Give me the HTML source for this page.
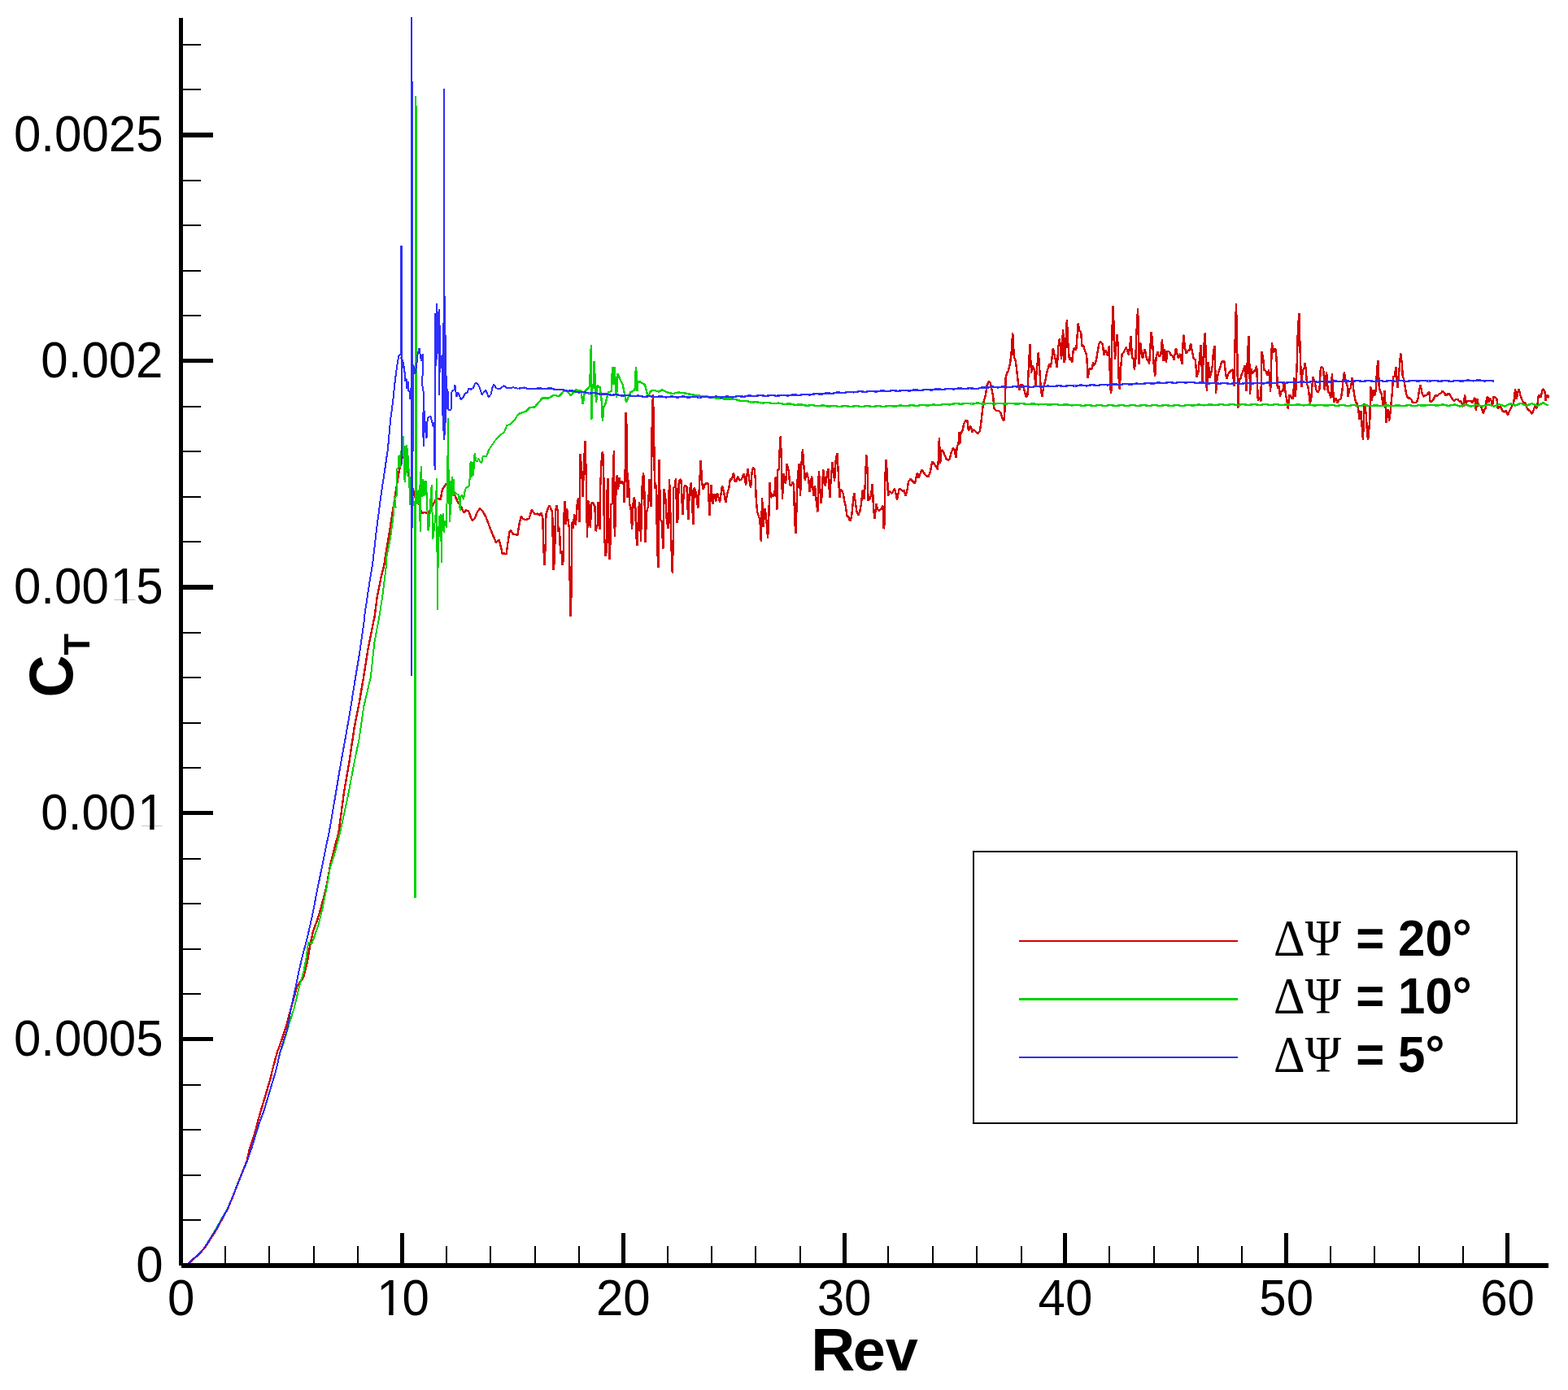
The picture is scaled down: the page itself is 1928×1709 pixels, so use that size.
<!DOCTYPE html>
<html lang="en">
<head>
<meta charset="utf-8">
<title>CT vs Rev</title>
<style>
html,body{margin:0;padding:0;background:#fff;}
body{width:1928px;height:1709px;overflow:hidden;}
svg{display:block;}
.tl{font-family:"Liberation Sans",sans-serif;font-size:60px;fill:#000;}
.ti{font-family:"Liberation Sans",sans-serif;font-weight:bold;font-size:72px;fill:#000;}
.lg{font-family:"Liberation Sans",sans-serif;font-weight:bold;font-size:60px;fill:#000;}
.gr{font-family:"Liberation Serif",serif;font-weight:normal;font-size:60px;fill:#000;}
.cv{fill:none;stroke-linejoin:bevel;stroke-linecap:butt;}
</style>
</head>
<body>
<svg width="1928" height="1709" viewBox="0 0 1928 1709">
<rect x="0" y="0" width="1928" height="1709" fill="#ffffff"/>
<g class="cv" shape-rendering="crispEdges">
<polyline points="229.7,1556.0 232.1,1553.4 242.1,1544.3 251.6,1534.7 265.4,1512.9 273.2,1498.6 280.2,1485.8 287.2,1468.7 293.9,1451.3 297.8,1441.8 303.7,1427.0 307.2,1411.4 313.4,1392.7 319.6,1369.4 325.8,1349.1 332.1,1327.4 336.7,1308.7 341.4,1291.6 342.8,1288.6 351.4,1263.7 357.6,1240.4 365.4,1212.3 370.0,1206.1 373.2,1201.4 377.8,1182.8 380.9,1164.1 384.8,1145.4 389.5,1133.0 394.9,1115.8 401.2,1090.9 406.6,1061.4 412.1,1039.6 416.4,1023.3 423.2,972.8 429.4,937.0 435.6,895.0 441.8,863.8 447.3,831.2 452.7,796.9 460.6,758.1 463.8,733.3 468.5,709.9 472.4,694.3 473.9,684.3 477.8,661.0 481.7,636.1 486.3,606.5 490.6,580.0 494.9,561.0 498.8,567.6 501.1,575.4 501.9,583.1 508.1,602.6 509.7,609.6 515.1,618.2 518.3,631.4 521.4,629.8 524.5,630.6 526.8,633.0 529.9,624.4 533.0,619.7 536.2,613.5 538.5,612.7 541.6,614.3 543.9,601.8 548.6,594.8 553.3,603.8 559.5,609.6 562.6,616.6 567.3,623.6 570.4,630.6 572.7,627.5 575.9,627.9 580.5,640.0 583.6,637.6 586.8,629.8 589.9,625.2 593.8,629.1 597.7,636.1 602.3,648.5 605.4,656.3 610.1,667.2 613.6,663.3 617.9,681.2 620.0,680.4 622.6,681.3 624.1,669.7 626.5,654.1 628.0,651.8 630.4,656.4 636.6,658.0 638.1,646.3 640.8,634.6 642.8,637.7 645.9,639.3 650.6,637.7 653.7,626.9 657.6,632.3 660.7,631.5 663.8,633.9 665.3,630.0 667.3,637.0 668.5,675.9 669.6,694.6 670.7,669.7 671.4,632.3 673.5,626.1 675.5,621.4 677.5,626.1 679.2,629.2 680.4,700.8 682.0,688.3 683.0,627.6 684.6,621.4 685.9,629.2 686.5,654.1 688.0,649.4 689.0,680.6 690.8,677.4 691.7,694.6 693.0,686.8 693.3,640.1 694.3,616.0 695.3,644.8 697.2,625.3 698.4,638.5 699.9,649.4 700.2,691.4 701.7,757.6 702.9,713.2 703.3,641.6 705.1,649.4 706.0,632.3 708.0,646.3 709.2,623.0 711.0,612.1 712.4,642.4 713.7,557.6 715.5,584.1 716.7,610.5 717.9,573.2 719.5,542.0 720.8,587.2 722.0,661.1 723.2,615.2 724.5,621.4 725.8,649.4 727.3,618.3 729.1,618.3 731.5,623.0 732.5,653.3 734.8,644.8 735.6,616.7 737.5,651.0 738.3,596.5 739.6,566.9 740.8,555.3 742.1,562.3 743.0,668.1 744.0,663.4 744.7,683.7 745.7,677.4 746.1,615.2 747.4,588.3 748.5,663.4 749.5,687.6 750.6,663.4 750.8,619.8 752.8,619.8 753.3,598.1 754.9,554.5 755.8,660.3 756.8,637.0 757.6,593.4 758.8,584.1 760.1,602.0 761.4,587.2 763.3,594.9 764.9,591.8 766.6,593.4 767.7,618.3 768.7,577.8 769.3,507.0 770.1,512.5 770.9,546.7 771.7,612.1 772.9,590.3 774.1,619.8 775.6,624.5 777.1,651.0 778.6,618.3 779.8,611.3 781.2,619.8 782.1,657.2 783.6,670.8 784.8,640.1 786.0,616.7 787.3,624.5 787.9,665.8 789.1,623.0 789.8,593.4 791.1,580.9 792.2,598.1 793.7,667.3 795.1,629.2 797.0,623.0 798.6,589.5 800.7,623.0 801.7,524.9 802.9,485.2 804.0,524.9 805.0,601.2 806.1,593.4 807.4,609.0 807.9,666.5 809.4,697.7 810.5,565.4 812.1,638.5 813.8,641.6 815.3,675.1 816.6,600.8 818.4,613.6 819.7,637.7 821.4,650.2 823.1,588.7 824.6,640.1 825.9,683.7 826.8,704.7 827.8,663.4 828.2,599.6 829.7,598.1 831.0,588.3 832.5,643.2 833.6,637.0 834.6,594.9 836.0,589.5 837.5,590.3 839.3,633.1 841.1,599.6 842.8,596.5 844.4,598.1 846.3,639.3 847.9,602.7 849.9,593.0 852.4,644.8 853.7,599.6 856.1,605.8 858.2,625.3 859.9,599.6 861.6,566.5 863.2,593.4 864.6,602.0 866.2,596.5 868.1,594.2 870.8,594.6 872.4,633.9 874.5,595.7 876.3,619.8 878.3,607.4 880.2,616.7 882.0,605.8 885.1,617.5 888.0,597.3 890.3,605.8 892.2,618.3 894.2,607.4 896.3,599.6 897.9,588.7 900.0,589.6 901.9,581.2 903.8,592.1 905.5,591.3 907.0,585.8 909.3,590.5 911.7,589.7 914.8,582.0 917.1,596.7 919.3,576.5 921.1,589.0 923.1,599.8 924.7,579.6 926.1,574.9 927.5,576.5 928.7,587.4 929.8,613.9 931.1,629.4 932.7,634.1 934.4,638.8 935.8,666.0 937.1,612.3 938.6,648.1 940.5,624.8 942.1,635.6 944.1,662.1 945.3,635.6 946.5,592.8 947.8,612.3 949.3,607.6 951.1,610.7 952.6,604.5 953.8,585.8 955.3,627.1 956.2,577.3 957.7,577.3 958.7,553.2 959.8,536.0 960.8,565.6 962.0,613.9 963.5,582.0 966.0,595.2 967.7,570.3 969.8,579.6 971.3,596.7 973.1,596.7 974.6,592.8 976.1,595.2 977.1,638.8 978.4,655.9 979.6,621.6 980.7,589.0 982.4,570.3 984.1,610.0 985.3,571.8 986.9,552.4 988.1,568.7 989.8,590.5 991.8,580.8 994.2,589.0 995.7,605.3 998.1,585.1 1000.4,610.0 1002.1,597.5 1003.8,617.0 1005.4,629.4 1006.9,578.8 1008.5,604.5 1009.7,618.5 1010.9,604.5 1012.1,576.9 1014.8,597.5 1018.3,575.7 1020.3,612.3 1021.7,589.0 1023.6,567.9 1026.1,592.1 1027.5,567.2 1029.3,556.7 1030.7,579.6 1032.3,612.3 1033.7,602.2 1035.4,603.0 1036.9,607.6 1038.4,617.0 1040.0,623.2 1041.3,634.1 1043.3,635.6 1045.2,641.1 1047.0,635.6 1048.6,620.1 1050.2,605.7 1051.8,617.0 1053.5,629.4 1055.3,633.3 1057.2,629.4 1058.9,620.1 1060.8,602.2 1062.5,613.9 1063.8,595.2 1065.3,559.4 1066.8,581.2 1067.5,615.4 1069.2,613.9 1071.0,609.2 1072.7,594.8 1074.1,626.3 1075.5,637.6 1077.4,618.9 1079.0,626.3 1081.3,627.9 1083.9,624.8 1085.5,621.6 1086.7,650.4 1087.6,643.4 1088.4,585.8 1089.6,565.3 1090.9,582.7 1092.0,610.0 1093.8,603.7 1096.9,606.9 1100.0,600.6 1103.1,614.6 1105.5,601.4 1107.0,600.6 1109.3,603.7 1111.7,603.0 1113.7,610.0 1115.6,601.4 1117.1,592.1 1119.5,589.0 1122.6,592.1 1124.9,594.4 1128.0,580.8 1129.6,587.4 1133.5,577.3 1137.4,583.5 1141.3,586.6 1143.6,581.2 1146.3,567.2 1149.8,571.8 1152.9,577.3 1153.7,567.2 1154.9,537.6 1156.1,570.3 1157.5,553.2 1159.4,554.7 1161.5,559.4 1163.8,564.8 1166.2,565.6 1167.7,564.1 1169.7,556.3 1172.0,550.8 1173.7,553.2 1175.5,563.3 1176.9,547.7 1178.4,546.9 1179.6,531.4 1180.3,545.5 1181.4,533.0 1183.3,529.9 1185.4,520.6 1187.5,516.7 1189.4,517.4 1190.9,529.9 1192.5,524.4 1194.0,524.4 1195.3,531.4 1197.1,528.3 1199.5,530.7 1202.6,533.0 1204.9,529.9 1206.4,519.0 1208.1,503.4 1209.8,492.5 1211.8,486.3 1213.5,473.9 1215.8,469.2 1217.8,470.7 1219.5,478.5 1221.2,487.9 1222.3,501.9 1225.1,505.0 1228.3,505.0 1230.6,508.1 1232.2,513.5 1234.3,517.4 1235.5,505.0 1236.7,464.5 1238.2,458.3 1239.9,456.0 1242.0,447.4 1243.5,434.9 1245.2,408.9 1246.9,439.6 1248.6,442.7 1249.9,452.1 1251.2,464.5 1252.4,473.9 1253.4,480.1 1254.7,473.9 1256.5,472.3 1258.5,475.4 1260.2,483.2 1262.0,488.6 1263.6,484.8 1264.4,461.4 1265.5,439.6 1266.5,422.9 1268.0,459.1 1269.4,449.0 1271.6,453.6 1273.3,473.9 1274.8,455.2 1276.0,442.7 1276.8,432.6 1277.7,445.8 1278.6,459.8 1279.8,477.0 1281.3,487.9 1283.0,477.0 1285.1,469.2 1287.1,458.3 1288.9,452.1 1290.4,447.4 1291.7,452.1 1293.2,442.7 1294.9,427.9 1297.5,441.2 1299.8,452.1 1301.2,427.2 1302.9,416.3 1305.1,442.0 1307.1,404.6 1308.7,445.8 1310.0,439.6 1311.0,405.4 1312.0,392.9 1312.7,413.2 1314.0,431.8 1315.0,442.7 1316.9,439.6 1318.2,445.8 1320.1,427.9 1323.2,430.3 1325.7,397.6 1327.3,406.9 1329.1,407.7 1330.5,425.6 1332.5,425.6 1334.1,431.8 1336.1,436.5 1337.7,464.5 1339.4,453.6 1342.7,453.6 1344.2,445.8 1346.0,449.0 1348.0,442.7 1349.7,431.8 1351.4,422.5 1353.2,420.2 1355.9,423.3 1357.4,436.5 1359.8,429.9 1362.2,438.1 1363.9,424.8 1365.1,470.7 1366.0,484.0 1366.8,477.0 1367.4,408.5 1368.5,376.2 1369.6,400.7 1371.0,441.6 1372.6,420.9 1373.7,411.6 1374.8,427.2 1375.6,464.5 1376.8,478.9 1378.1,452.1 1379.7,434.9 1381.6,433.4 1384.7,426.8 1387.8,436.5 1390.6,413.5 1391.9,439.6 1393.6,441.2 1394.9,454.4 1396.3,442.7 1397.4,410.0 1399.1,379.3 1400.7,447.8 1402.1,420.9 1404.9,441.2 1407.7,429.1 1410.0,442.0 1411.6,442.7 1413.1,447.4 1414.3,428.7 1415.6,408.5 1416.5,414.7 1417.5,427.2 1418.5,445.8 1420.2,463.0 1421.6,439.6 1423.3,432.6 1425.0,438.1 1427.2,437.3 1429.0,417.4 1430.6,444.3 1432.0,428.7 1433.9,445.5 1435.3,431.8 1437.6,432.6 1439.9,436.5 1442.3,438.1 1443.4,442.7 1445.9,427.9 1448.9,440.4 1451.6,434.9 1453.3,448.2 1455.2,411.6 1457.0,427.2 1458.7,434.9 1460.4,431.8 1462.4,430.3 1464.2,422.5 1466.1,433.4 1467.8,441.2 1469.8,442.3 1471.6,463.7 1473.6,456.7 1475.1,439.6 1476.7,423.7 1478.5,471.9 1480.1,427.2 1481.9,408.6 1483.8,480.5 1485.7,445.1 1487.7,464.5 1489.3,458.3 1490.9,449.0 1492.0,431.8 1493.6,425.2 1495.0,483.6 1496.6,464.5 1498.2,458.3 1500.2,452.1 1501.9,445.8 1503.6,443.5 1505.5,444.3 1506.9,458.3 1508.4,466.1 1510.0,459.8 1512.0,457.5 1514.1,455.2 1515.8,454.4 1517.4,475.4 1518.6,420.9 1520.0,373.0 1521.1,420.9 1522.3,501.9 1523.5,466.1 1525.3,466.1 1526.9,459.8 1528.9,455.2 1530.8,449.0 1532.7,480.9 1534.1,433.4 1535.6,413.2 1537.1,484.8 1538.4,453.6 1540.0,459.8 1541.6,456.7 1543.3,456.0 1545.2,449.7 1546.8,492.5 1548.6,487.9 1550.3,494.1 1551.6,431.8 1553.2,441.2 1554.5,455.2 1556.4,456.0 1558.4,461.4 1560.1,454.4 1562.2,481.6 1563.9,421.3 1565.5,433.4 1566.9,428.7 1568.3,428.7 1569.6,441.2 1570.8,477.7 1572.6,473.9 1574.0,487.9 1575.6,480.1 1577.2,481.6 1578.9,469.2 1580.7,483.2 1582.1,491.0 1583.8,503.0 1585.1,486.3 1586.8,485.5 1588.3,490.2 1590.2,489.4 1591.3,464.5 1592.6,487.9 1593.6,477.0 1594.7,447.4 1596.0,402.3 1597.4,385.5 1598.8,436.5 1600.3,476.2 1601.7,455.2 1603.5,453.6 1604.7,445.8 1605.9,455.2 1607.0,472.3 1608.4,475.4 1609.4,483.2 1610.9,495.6 1612.3,489.4 1614.3,463.0 1616.7,470.0 1618.6,480.1 1620.7,482.4 1622.5,478.5 1623.9,452.1 1625.4,451.3 1627.2,453.6 1628.8,480.1 1631.1,457.5 1632.9,482.4 1634.7,482.4 1636.3,489.8 1637.9,459.5 1640.1,494.9 1642.8,489.0 1644.6,495.6 1646.7,491.0 1648.7,491.0 1650.4,480.1 1651.7,466.1 1652.9,457.5 1654.1,464.5 1655.3,470.7 1656.6,473.9 1657.7,487.9 1659.0,478.5 1660.8,477.0 1662.7,463.7 1664.4,480.1 1665.9,489.4 1667.4,495.6 1668.9,495.6 1670.2,503.4 1671.7,515.5 1673.4,505.0 1674.8,526.8 1676.0,541.2 1676.9,511.2 1677.6,496.4 1678.7,501.9 1679.9,509.7 1680.9,531.4 1682.1,541.2 1683.1,529.9 1684.3,517.4 1685.2,475.0 1686.9,492.5 1688.7,479.3 1690.6,486.3 1692.0,477.0 1693.1,453.6 1694.5,443.1 1695.8,477.0 1697.3,481.6 1698.9,484.8 1700.8,500.3 1702.7,480.1 1704.5,519.8 1706.4,502.7 1708.1,517.4 1709.4,508.1 1710.6,495.6 1711.9,481.6 1713.1,463.0 1714.8,463.0 1716.5,450.9 1718.4,477.0 1720.4,456.0 1722.2,433.8 1723.7,445.8 1724.8,463.0 1726.2,466.1 1727.6,475.4 1729.3,484.8 1731.0,489.4 1733.0,489.4 1735.4,491.0 1736.9,494.9 1739.6,494.7 1741.6,494.8 1743.3,491.3 1744.7,482.5 1746.6,472.8 1748.3,482.5 1750.3,487.9 1752.2,486.4 1754.7,485.5 1755.9,482.5 1757.4,482.5 1758.4,493.3 1760.1,493.8 1762.0,491.8 1764.9,486.4 1767.4,486.4 1769.3,484.5 1771.8,483.5 1773.7,480.6 1775.7,482.5 1777.6,486.4 1779.1,485.5 1781.0,483.5 1783.0,485.5 1784.9,489.4 1787.9,492.8 1790.3,490.8 1792.3,490.8 1794.2,493.3 1796.2,493.3 1797.7,496.2 1799.5,500.1 1801.1,485.5 1802.5,496.2 1804.0,492.8 1808.4,492.8 1810.4,495.2 1813.5,488.9 1814.9,505.0 1816.5,490.1 1818.0,499.1 1819.7,498.2 1821.4,501.1 1822.9,505.0 1824.0,508.4 1825.6,503.1 1827.1,501.1 1828.0,488.4 1829.4,488.4 1830.4,494.3 1831.4,489.9 1833.6,492.3 1835.1,498.2 1836.6,487.4 1838.4,488.9 1840.5,490.4 1841.7,502.1 1843.4,500.1 1845.0,500.1 1847.5,505.0 1849.0,506.5 1851.9,505.0 1853.8,510.4 1855.4,507.0 1857.3,503.1 1859.0,499.1 1861.1,496.2 1863.1,478.6 1864.6,490.4 1867.5,478.1 1869.5,486.4 1871.5,491.3 1873.6,495.2 1875.3,495.2 1876.8,500.1 1879.0,504.0 1881.2,505.0 1883.2,508.9 1885.1,506.0 1886.6,501.1 1888.0,499.1 1889.1,503.1 1890.4,498.2 1891.6,487.4 1892.9,485.5 1894.4,488.4 1895.4,484.5 1896.8,478.6 1898.2,478.6 1899.6,482.5 1900.7,493.3 1901.9,485.5 1903.2,486.4 1904.6,489.4" stroke="#d20000" stroke-width="2.4"/>
<rect x="510" y="118" width="2" height="12" fill="#00d200" stroke="none"/>
<rect x="510" y="130" width="3" height="490" fill="#00d200" stroke="none"/>
<rect x="509" y="620" width="3" height="484" fill="#00d200" stroke="none"/>
<rect x="537" y="692" width="2" height="58" fill="#00d200" stroke="none"/>
<polyline points="229.3,1556.0 231.7,1553.0 241.8,1544.0 251.1,1534.4 265.1,1511.8 272.9,1497.8 279.9,1486.1 286.9,1469.0 293.9,1451.9 297.8,1442.5 304.1,1427.0 309.5,1411.4 314.9,1393.5 319.6,1379.0 324.3,1366.6 329.0,1351.0 333.6,1335.4 338.3,1319.9 341.4,1307.4 344.5,1293.4 346.7,1288.6 356.0,1257.5 362.3,1237.2 368.5,1210.8 373.2,1195.2 376.3,1179.6 379.1,1158.6 383.5,1160.2 391.8,1136.1 396.5,1117.4 401.2,1094.0 405.8,1067.6 412.1,1047.3 418.0,1024.1 427.8,979.0 434.8,941.7 441.8,907.4 447.3,868.5 455.8,832.7 460.5,789.1 466.4,758.1 470.0,734.8 473.2,709.9 475.0,694.3 475.4,684.3 480.1,661.0 483.2,637.6 484.4,626.7 483.6,617.4 486.7,624.4 485.2,611.9 487.9,609.6 488.3,602.6 487.5,577.7 489.5,575.4 490.2,559.8 492.2,574.6 492.6,555.1 495.0,552.0 496.1,536.0 497.0,590.0 497.6,548.0 498.3,592.5 499.2,556.0 500.4,547.5 501.5,580.0 502.2,560.0 503.0,600.0 503.6,586.0 504.4,620.5 505.5,600.0 511.0,630.0 511.2,118.0 510.4,1104.0 511.3,600.0 513.6,606.5 514.4,619.7 515.9,595.6 516.7,654.0 517.6,573.0 518.6,611.2 519.8,589.4 521.0,609.6 522.2,590.9 522.9,608.8 523.7,590.9 525.0,613.9 526.4,652.4 528.0,645.4 529.0,620.1 530.7,596.4 531.5,629.8 532.3,662.5 534.0,648.9 535.8,629.8 536.9,588.2 537.6,693.0 538.0,749.5 538.6,690.0 539.4,650.0 540.1,634.5 541.2,660.0 542.0,632.0 542.9,691.5 543.6,640.0 544.7,631.5 545.6,655.0 547.1,640.0 548.8,648.5 550.2,590.0 551.0,514.5 551.7,600.0 552.6,622.0 553.3,641.5 554.5,590.9 555.0,619.7 555.6,586.2 556.6,609.6 557.6,588.6 558.3,608.0 559.5,604.9 561.5,607.3 563.4,608.0 564.6,614.3 565.7,627.5 566.5,610.4 568.5,608.8 570.0,614.3 571.2,605.7 572.7,600.3 576.6,597.5 577.8,587.0 578.6,566.8 579.8,587.0 580.9,567.6 582.1,584.7 583.6,557.4 585.2,566.0 586.8,567.6 588.3,563.7 590.3,567.6 592.2,569.1 593.8,560.6 596.1,561.3 598.4,560.6 600.8,553.6 602.3,551.3 608.6,542.0 614.0,535.8 620.0,531.1 623.3,523.0 628.0,521.4 632.7,516.7 637.4,509.0" stroke="#00d200" stroke-width="2.0"/>
<polyline points="637.4,509.0 642.0,507.4 646.7,505.8 651.4,501.2 657.6,500.4 662.3,494.9 666.9,489.5 674.7,489.5 680.9,485.6 687.2,487.2 693.4,480.9 696.5,480.2 702.0,486.4 707.4,479.4 714.4,480.2 716.7,496.5 719.1,480.9 723.0,477.8 725.3,474.7 726.1,446.7 726.9,424.1 727.3,516.0 728.3,474.7 729.5,477.8 730.7,444.4 732.0,474.7 733.1,494.9 734.5,473.9 737.7,476.3 739.8,493.4 740.9,517.5 742.4,499.6 744.0,498.1 747.9,482.5 751.8,480.9 752.5,462.3 753.3,450.6 754.4,473.2 755.6,451.4 756.9,473.2 758.0,488.7 759.5,459.1 763.4,468.5 765.8,473.2 770.0,494.6 775.1,482.5 780.6,479.4 781.3,462.3 782.1,450.6 783.4,480.9 784.6,468.5 786.8,469.3 793.0,473.2 795.3,482.5 796.9,487.9 800.0,480.9 803.9,479.7 810.1,481.7 814.0,479.4 821.0,482.5 827.2,484.1 833.5,482.5 841.3,483.3 849.0,484.8 856.8,486.4 867.7,487.2 880.2,489.5 892.6,490.6 899.9,490.6 905.0,491.2 906.5,491.7 908.0,492.2 909.5,492.6 911.0,492.8 912.5,492.9 914.0,492.8 915.5,492.8 917.0,492.9 918.5,493.2 920.0,493.6 921.5,494.1 923.0,494.4 924.5,494.5 926.0,494.5 927.5,494.3 929.0,494.2 930.5,494.3 932.0,494.5 933.5,494.9 935.0,495.2 936.5,495.5 938.0,495.5 939.5,495.4 941.0,495.2 942.5,495.0 944.0,495.0 945.5,495.2 947.0,495.5 948.5,495.9 950.0,496.1 951.5,496.2 953.0,496.1 954.5,495.8 956.0,495.7 957.5,495.6 959.0,495.8 960.5,496.1 962.0,496.5 963.5,496.8 965.0,496.9 966.5,496.8 968.0,496.6 969.5,496.5 971.0,496.4 972.5,496.6 974.0,497.0 975.5,497.4 977.0,497.7 978.5,497.8 980.0,497.7 981.5,497.6 983.0,497.4 984.5,497.4 986.0,497.5 987.5,497.9 989.0,498.3 990.5,498.6 992.0,498.7 993.5,498.7 995.0,498.4 996.5,498.2 998.0,498.1 999.5,498.2 1001.0,498.5 1002.5,498.8 1004.0,499.1 1005.5,499.2 1007.0,499.1 1008.5,498.8 1010.0,498.6 1011.5,498.5 1013.0,498.6 1014.5,498.8 1016.0,499.2 1017.5,499.5 1019.0,499.6 1020.5,499.5 1022.0,499.2 1023.5,499.0 1025.0,498.9 1026.5,498.9 1028.0,499.2 1029.5,499.6 1031.0,499.8 1032.5,499.9 1034.0,499.8 1035.5,499.5 1037.0,499.2 1038.5,499.1 1040.0,499.1 1041.5,499.3 1043.0,499.6 1044.5,499.9 1046.0,499.9 1047.5,499.8 1049.0,499.5 1050.5,499.3 1052.0,499.1 1053.5,499.1 1055.0,499.3 1056.5,499.6 1058.0,499.9 1059.5,499.9 1061.0,499.8 1062.5,499.6 1064.0,499.3 1065.5,499.1 1067.0,499.1 1068.5,499.3 1070.0,499.6 1071.5,499.8 1073.0,499.9 1074.5,499.8 1076.0,499.6 1077.5,499.3 1079.0,499.1 1080.5,499.1 1082.0,499.3 1083.5,499.6 1085.0,499.8 1086.5,499.9 1088.0,499.8 1089.5,499.5 1091.0,499.2 1092.5,498.9 1094.0,498.9 1095.5,499.0 1097.0,499.3 1098.5,499.5 1100.0,499.6 1101.5,499.5 1103.0,499.2 1104.5,498.9 1106.0,498.6 1107.5,498.5 1109.0,498.7 1110.5,498.9 1112.0,499.2 1113.5,499.3 1115.0,499.2 1116.5,498.9 1118.0,498.5 1119.5,498.3 1121.0,498.2 1122.5,498.3 1124.0,498.5 1125.5,498.8 1127.0,498.9 1128.5,498.8 1130.0,498.5 1131.5,498.2 1133.0,497.9 1134.5,497.8 1136.0,497.9 1137.5,498.2 1139.0,498.4 1140.5,498.6 1142.0,498.5 1143.5,498.2 1145.0,497.9 1146.5,497.6 1148.0,497.5 1149.5,497.6 1151.0,497.8 1152.5,498.0 1154.0,498.1 1155.5,498.0 1157.0,497.7 1158.5,497.3 1160.0,497.0 1161.5,496.8 1163.0,496.9 1164.5,497.1 1166.0,497.3 1167.5,497.4 1169.0,497.3 1170.5,497.0 1172.0,496.6 1173.5,496.3 1175.0,496.1 1176.5,496.2 1178.0,496.3 1179.5,496.6 1181.0,496.7 1182.5,496.7 1184.0,496.5 1185.5,496.1 1187.0,495.9 1188.5,495.7 1190.0,495.8 1191.5,496.0 1193.0,496.3 1194.5,496.5 1196.0,496.5 1197.5,496.3 1199.0,496.0 1200.5,495.7 1202.0,495.6 1203.5,495.7 1205.0,495.9 1206.5,496.3 1208.0,496.5 1209.5,496.5 1211.0,496.4 1212.5,496.1 1214.0,495.8 1215.5,495.7 1217.0,495.7 1218.5,496.0 1220.0,496.3 1221.5,496.5 1223.0,496.5 1224.5,496.4 1226.0,496.1 1227.5,495.8 1229.0,495.7 1230.5,495.7 1232.0,496.0 1233.5,496.3 1235.0,496.5 1236.5,496.5 1238.0,496.4 1239.5,496.1 1241.0,495.8 1242.5,495.7 1244.0,495.8 1245.5,496.0 1247.0,496.4 1248.5,496.6 1250.0,496.7 1251.5,496.6 1253.0,496.4 1254.5,496.1 1256.0,496.0 1257.5,496.1 1259.0,496.4 1260.5,496.7 1262.0,497.0 1263.5,497.1 1265.0,497.0 1266.5,496.8 1268.0,496.5 1269.5,496.4 1271.0,496.4 1272.5,496.7 1274.0,497.0 1275.5,497.3 1277.0,497.4 1278.5,497.3 1280.0,497.1 1281.5,496.8 1283.0,496.7 1284.5,496.7 1286.0,496.9 1287.5,497.3 1289.0,497.6 1290.5,497.7 1292.0,497.6 1293.5,497.4 1295.0,497.1 1296.5,496.9 1298.0,497.0 1299.5,497.2 1301.0,497.5 1302.5,497.8 1304.0,497.9 1305.5,497.9 1307.0,497.7 1308.5,497.4 1310.0,497.3 1311.5,497.3 1313.0,497.5 1314.5,497.9 1316.0,498.2 1317.5,498.4 1319.0,498.3 1320.5,498.1 1322.0,497.9 1323.5,497.7 1325.0,497.7 1326.5,497.9 1328.0,498.3 1329.5,498.6 1331.0,498.8 1332.5,498.8 1334.0,498.6 1335.5,498.3 1337.0,498.1 1338.5,498.1 1340.0,498.2 1341.5,498.5 1343.0,498.8 1344.5,498.9 1346.0,498.9 1347.5,498.6 1349.0,498.3 1350.5,498.1 1352.0,498.1 1353.5,498.2 1355.0,498.5 1356.5,498.8 1358.0,498.9 1359.5,498.9 1361.0,498.7 1362.5,498.4 1364.0,498.1 1365.5,498.1 1367.0,498.2 1368.5,498.5 1370.0,498.8 1371.5,498.9 1373.0,498.9 1374.5,498.7 1376.0,498.4 1377.5,498.1 1379.0,498.1 1380.5,498.2 1382.0,498.5 1383.5,498.8 1385.0,498.9 1386.5,498.9 1388.0,498.7 1389.5,498.4 1391.0,498.1 1392.5,498.1 1394.0,498.2 1395.5,498.4 1397.0,498.7 1398.5,498.9 1400.0,498.9 1401.5,498.7 1403.0,498.4 1404.5,498.2 1406.0,498.1 1407.5,498.2 1409.0,498.4 1410.5,498.7 1412.0,498.9 1413.5,498.9 1415.0,498.7 1416.5,498.4 1418.0,498.2 1419.5,498.1 1421.0,498.1 1422.5,498.4 1424.0,498.7 1425.5,498.9 1427.0,498.9 1428.5,498.7 1430.0,498.4 1431.5,498.2 1433.0,498.1 1434.5,498.1 1436.0,498.4 1437.5,498.7 1439.0,498.9 1440.5,498.9 1442.0,498.8 1443.5,498.5 1445.0,498.2 1446.5,498.1 1448.0,498.1 1449.5,498.4 1451.0,498.7 1452.5,498.9 1454.0,498.9 1455.5,498.8 1457.0,498.5 1458.5,498.2 1460.0,498.1 1461.5,498.0 1463.0,498.2 1464.5,498.4 1466.0,498.6 1467.5,498.6 1469.0,498.3 1470.5,498.0 1472.0,497.7 1473.5,497.5 1475.0,497.6 1476.5,497.8 1478.0,498.1 1479.5,498.3 1481.0,498.3 1482.5,498.2 1484.0,497.9 1485.5,497.6 1487.0,497.4 1488.5,497.4 1490.0,497.6 1491.5,497.9 1493.0,498.1 1494.5,498.2 1496.0,498.0 1497.5,497.7 1499.0,497.4 1500.5,497.2 1502.0,497.2 1503.5,497.4 1505.0,497.7 1506.5,498.0 1508.0,498.0 1509.5,497.9 1511.0,497.6 1512.5,497.3 1514.0,497.1 1515.5,497.1 1517.0,497.3 1518.5,497.6 1520.0,497.8 1521.5,497.9 1523.0,497.8 1524.5,497.6 1526.0,497.3 1527.5,497.1 1529.0,497.1 1530.5,497.3 1532.0,497.6 1533.5,497.8 1535.0,497.9 1536.5,497.9 1538.0,497.6 1539.5,497.3 1541.0,497.1 1542.5,497.1 1544.0,497.3 1545.5,497.5 1547.0,497.8 1548.5,497.9 1550.0,497.9 1551.5,497.6 1553.0,497.3 1554.5,497.1 1556.0,497.1 1557.5,497.2 1559.0,497.5 1560.5,497.8 1562.0,497.9 1563.5,497.9 1565.0,497.7 1566.5,497.4 1568.0,497.2 1569.5,497.1 1571.0,497.3 1572.5,497.6 1574.0,497.9 1575.5,498.1 1577.0,498.0 1578.5,497.8 1580.0,497.5 1581.5,497.3 1583.0,497.3 1584.5,497.4 1586.0,497.7 1587.5,498.0 1589.0,498.2 1590.5,498.2 1592.0,498.0 1593.5,497.7 1595.0,497.5 1596.5,497.4 1598.0,497.6 1599.5,497.9 1601.0,498.2 1602.5,498.4 1604.0,498.3 1605.5,498.1 1607.0,497.8 1608.5,497.6 1610.0,497.6 1611.5,497.7 1613.0,498.0 1614.5,498.3 1616.0,498.5 1617.5,498.5 1619.0,498.3 1620.5,498.0 1622.0,497.8 1623.5,497.7 1625.0,497.8 1626.5,498.1 1628.0,498.4 1629.5,498.6 1631.0,498.6 1632.5,498.5 1634.0,498.2 1635.5,497.9 1637.0,497.8 1638.5,498.0 1640.0,498.2 1641.5,498.6 1643.0,498.8 1644.5,498.8 1646.0,498.6 1647.5,498.3 1649.0,498.1 1650.5,498.0 1652.0,498.1 1653.5,498.4 1655.0,498.7 1656.5,498.9 1658.0,498.9 1659.5,498.8 1661.0,498.5 1662.5,498.2 1664.0,498.1 1665.5,498.2 1667.0,498.4 1668.5,498.8 1670.0,499.0 1671.5,499.0 1673.0,498.9 1674.5,498.6 1676.0,498.3 1677.5,498.2 1679.0,498.3 1680.5,498.5 1682.0,498.8 1683.5,499.1 1685.0,499.1 1686.5,499.0 1688.0,498.7 1689.5,498.4 1691.0,498.3 1692.5,498.3 1694.0,498.6 1695.5,498.9 1697.0,499.1 1698.5,499.2 1700.0,499.1 1701.5,498.8 1703.0,498.5 1704.5,498.4 1706.0,498.4 1707.5,498.6 1709.0,498.9 1710.5,499.1 1712.0,499.2 1713.5,499.0 1715.0,498.7 1716.5,498.4 1718.0,498.3 1719.5,498.3 1721.0,498.5 1722.5,498.8 1724.0,499.0 1725.5,499.1 1727.0,499.0 1728.5,498.7 1730.0,498.4 1731.5,498.2 1733.0,498.2 1734.5,498.4 1736.0,498.7 1737.5,499.0 1739.0,499.1 1740.5,499.0 1742.0,498.7 1743.5,498.4 1745.0,498.2 1749.8,498.7 1759.5,497.7 1767.4,498.7 1774.2,497.2 1781.0,499.0 1788.9,497.2 1794.7,499.6 1802.5,497.7 1808.4,499.6 1816.2,497.7 1823.1,499.6 1829.9,497.2 1836.7,499.6 1843.6,497.2 1850.4,499.6 1857.3,496.2 1863.1,498.7 1870.0,495.7 1876.8,499.0 1883.6,496.0 1890.5,499.0 1897.3,495.2 1903.7,498.7" stroke="#00d200" stroke-width="2.4"/>
<rect x="505" y="21" width="2" height="79" fill="#2e2eff" stroke="none"/>
<rect x="505" y="100" width="3" height="549" fill="#2e2eff" stroke="none"/>
<rect x="505" y="649" width="2" height="182" fill="#2e2eff" stroke="none"/>
<rect x="492" y="302" width="3" height="134" fill="#2e2eff" stroke="none"/>
<rect x="493" y="436" width="2" height="135" fill="#2e2eff" stroke="none"/>
<rect x="545" y="109" width="2" height="255" fill="#2e2eff" stroke="none"/>
<polyline points="229.3,1556.0 231.7,1553.0 241.8,1544.0 251.1,1534.4 265.1,1512.6 272.9,1498.6 279.9,1486.1 286.9,1469.0 293.9,1451.9 297.8,1442.5 304.1,1427.0 309.5,1411.4 314.9,1392.7 319.6,1378.7 324.3,1366.3 329.0,1350.7 333.6,1335.1 338.3,1319.6 341.4,1307.1 344.5,1293.1 345.9,1288.6 352.9,1266.8 358.4,1237.2 363.8,1212.3 366.9,1196.8 371.6,1176.5 377.8,1153.2 384.1,1125.2 389.5,1097.2 394.9,1070.7 401.2,1039.6 404.7,1023.3 411.5,983.7 418.5,941.7 424.7,907.4 430.2,876.3 435.6,842.1 441.8,804.7 448.1,761.1 448.3,756.6 452.9,725.5 458.4,691.2 463.0,650.8 468.5,608.7 473.2,577.6 477.0,551.3 480.1,516.3 483.2,492.9 485.6,469.6 487.9,451.7 490.2,437.7 492.7,435.3 493.4,302.5 494.0,571.0 494.3,446.0 493.4,438.5 494.1,451.7 495.3,442.4 496.1,453.2 497.2,450.1 498.0,468.8 499.6,465.7 500.4,478.2 501.5,468.8 502.3,480.5 503.9,481.3 504.2,491.4 504.9,481.3 506.0,474.0 506.0,21.5 506.0,831.0 507.0,100.0 507.0,649.0 508.1,448.3 510.5,459.5 512.4,447.0 513.2,437.7 515.5,428.3 517.9,443.9 519.8,435.3 519.8,457.9 518.9,471.9 520.6,481.3 521.0,496.8 519.8,522.5 521.0,549.0 522.0,504.6 522.9,528.0 524.5,538.9 525.7,514.0 529.2,511.6 530.7,516.3 532.3,524.1 533.4,519.4 534.6,577.5 535.0,385.5 535.6,450.0 536.2,392.0 536.7,442.0 537.0,373.5 537.3,441.0 539.6,380.5 540.0,486.0 540.6,400.0 540.9,458.0 543.6,436.0 544.0,511.0 544.6,438.0 545.3,530.0 546.0,109.0 546.3,541.0 546.8,364.0 547.2,535.0 547.8,412.0 548.3,520.0 548.9,462.0 549.6,503.0 550.4,478.0 551.3,503.8 554.5,503.8 554.8,486.7 555.6,481.3 558.7,478.9 559.5,473.5 561.3,487.9 563.4,482.8 566.9,491.4 569.6,488.3 572.0,483.6 574.3,482.8 576.6,477.4 579.0,478.9 582.1,476.6 584.4,471.2 586.8,471.2 589.1,475.0 592.6,485.2 597.3,479.7 600.8,488.3 603.9,484.4 605.4,476.6 607.4,472.7 610.1,477.4 614.8,477.8 620.0,474.3 623.3,477.4 631.1,476.3 637.4,477.8" stroke="#2e2eff" stroke-width="2.0"/>
<polyline points="637.4,477.8 644.4,476.6 648.3,477.8 660.0,477.7 661.5,477.5 663.0,477.4 664.5,477.5 666.0,477.7 667.5,478.0 669.0,478.2 670.5,478.2 672.0,478.0 673.5,477.7 675.0,477.5 676.5,477.4 678.0,477.6 679.5,478.1 681.0,478.5 682.5,478.9 684.0,479.1 685.5,479.1 687.0,478.9 688.5,478.8 690.0,478.9 691.5,479.1 693.0,479.5 694.5,480.0 696.0,480.4 697.5,480.7 699.0,480.7 700.5,480.6 702.0,480.5 703.5,480.5 705.0,480.8 706.5,481.2 708.0,481.7 709.5,482.1 711.0,482.3 712.5,482.3 714.0,482.1 715.5,482.0 717.0,481.9 718.5,482.1 720.0,482.5 721.5,482.9 723.0,483.3 724.5,483.5 726.0,483.5 727.5,483.3 729.0,483.1 730.5,483.1 732.0,483.3 733.5,483.6 735.0,484.1 736.5,484.5 738.0,484.7 739.5,484.7 741.0,484.5 742.5,484.4 744.0,484.3 745.5,484.5 747.0,484.8 748.5,485.2 750.0,485.6 751.5,485.7 753.0,485.7 754.5,485.5 756.0,485.3 757.5,485.2 759.0,485.3 760.5,485.6 762.0,486.0 763.5,486.3 765.0,486.5 766.5,486.5 768.0,486.3 769.5,486.1 771.0,486.0 772.5,486.0 774.0,486.3 775.5,486.7 777.0,487.0 778.5,487.2 780.0,487.2 781.5,487.0 783.0,486.7 784.5,486.6 786.0,486.7 787.5,486.9 789.0,487.3 790.5,487.6 792.0,487.8 793.5,487.8 795.0,487.6 796.5,487.3 798.0,487.1 799.5,487.2 801.0,487.4 802.5,487.7 804.0,488.0 805.5,488.1 807.0,488.1 808.5,487.9 810.0,487.6 811.5,487.4 813.0,487.4 814.5,487.6 816.0,487.9 817.5,488.2 819.0,488.4 820.5,488.3 822.0,488.1 823.5,487.8 825.0,487.6 826.5,487.5 828.0,487.7 829.5,488.0 831.0,488.3 832.5,488.4 834.0,488.4 835.5,488.2 837.0,487.9 838.5,487.6 840.0,487.6 841.5,487.7 843.0,488.0 844.5,488.3 846.0,488.5 847.5,488.5 849.0,488.3 850.5,488.0 852.0,487.7 853.5,487.7 855.0,487.8 856.5,488.1 858.0,488.4 859.5,488.5 861.0,488.5 862.5,488.3 864.0,488.0 865.5,487.7 867.0,487.7 868.5,487.8 870.0,488.0 871.5,488.3 873.0,488.5 874.5,488.5 876.0,488.3 877.5,488.0 879.0,487.7 880.5,487.6 882.0,487.7 883.5,488.0 885.0,488.3 886.5,488.5 888.0,488.4 889.5,488.2 891.0,487.9 892.5,487.6 894.0,487.5 895.5,487.6 897.0,487.8 898.5,488.1 900.0,488.3 901.5,488.3 903.0,488.0 904.5,487.6 906.0,487.3 907.5,487.1 909.0,487.1 910.5,487.3 912.0,487.6 913.5,487.7 915.0,487.7 916.5,487.4 918.0,487.1 919.5,486.7 921.0,486.5 922.5,486.5 924.0,486.7 925.5,486.9 927.0,487.1 928.5,487.1 930.0,486.8 931.5,486.5 933.0,486.2 934.5,486.0 936.0,486.1 937.5,486.3 939.0,486.6 940.5,486.8 942.0,486.8 943.5,486.7 945.0,486.4 946.5,486.1 948.0,485.9 949.5,485.9 951.0,486.1 952.5,486.4 954.0,486.7 955.5,486.7 957.0,486.6 958.5,486.3 960.0,486.0 961.5,485.8 963.0,485.8 964.5,485.9 966.0,486.2 967.5,486.4 969.0,486.4 970.5,486.2 972.0,485.9 973.5,485.5 975.0,485.3 976.5,485.3 978.0,485.4 979.5,485.7 981.0,485.9 982.5,485.9 984.0,485.8 985.5,485.4 987.0,485.1 988.5,484.8 990.0,484.8 991.5,485.0 993.0,485.2 994.5,485.4 996.0,485.4 997.5,485.2 999.0,484.8 1000.5,484.5 1002.0,484.2 1003.5,484.1 1005.0,484.2 1006.5,484.4 1008.0,484.6 1009.5,484.6 1011.0,484.4 1012.5,484.1 1014.0,483.7 1015.5,483.4 1017.0,483.3 1018.5,483.4 1020.0,483.6 1021.5,483.8 1023.0,483.8 1024.5,483.6 1026.0,483.3 1027.5,482.9 1029.0,482.6 1030.5,482.5 1032.0,482.6 1033.5,482.8 1035.0,483.0 1036.5,483.0 1038.0,482.9 1039.5,482.6 1041.0,482.2 1042.5,481.9 1044.0,481.8 1045.5,481.8 1047.0,482.1 1048.5,482.3 1050.0,482.3 1051.5,482.2 1053.0,481.9 1054.5,481.5 1056.0,481.2 1057.5,481.1 1059.0,481.2 1060.5,481.5 1062.0,481.7 1063.5,481.8 1065.0,481.8 1066.5,481.5 1068.0,481.1 1069.5,480.9 1071.0,480.8 1072.5,480.9 1074.0,481.1 1075.5,481.4 1077.0,481.5 1078.5,481.4 1080.0,481.2 1081.5,480.8 1083.0,480.5 1084.5,480.4 1086.0,480.5 1087.5,480.7 1089.0,481.0 1090.5,481.1 1092.0,481.1 1093.5,480.8 1095.0,480.5 1096.5,480.2 1098.0,480.1 1099.5,480.1 1101.0,480.4 1102.5,480.6 1104.0,480.8 1105.5,480.7 1107.0,480.5 1108.5,480.2 1110.0,479.9 1111.5,479.7 1113.0,479.8 1114.5,480.0 1116.0,480.3 1117.5,480.4 1119.0,480.4 1120.5,480.1 1122.0,479.8 1123.5,479.5 1125.0,479.3 1126.5,479.3 1128.0,479.5 1129.5,479.8 1131.0,479.9 1132.5,479.9 1134.0,479.7 1135.5,479.3 1137.0,479.0 1138.5,478.8 1140.0,478.8 1141.5,479.0 1143.0,479.3 1144.5,479.4 1146.0,479.4 1147.5,479.2 1149.0,478.8 1150.5,478.5 1152.0,478.3 1153.5,478.3 1155.0,478.5 1156.5,478.7 1158.0,478.9 1159.5,478.9 1161.0,478.7 1162.5,478.3 1164.0,478.0 1165.5,477.8 1167.0,477.8 1168.5,478.0 1170.0,478.2 1171.5,478.4 1173.0,478.4 1174.5,478.2 1176.0,477.9 1177.5,477.5 1179.0,477.3 1180.5,477.3 1182.0,477.5 1183.5,477.8 1185.0,478.1 1186.5,478.1 1188.0,478.0 1189.5,477.7 1191.0,477.4 1192.5,477.3 1194.0,477.3 1195.5,477.5 1197.0,477.8 1198.5,478.1 1200.0,478.1 1201.5,478.0 1203.0,477.7 1204.5,477.2 1206.0,476.7 1207.5,476.5 1209.0,476.4 1210.5,476.4 1212.0,476.5 1213.5,476.6 1215.0,476.5 1216.5,476.2 1218.0,475.9 1219.5,475.6 1221.0,475.6 1222.5,475.8 1224.0,476.1 1225.5,476.3 1227.0,476.4 1228.5,476.3 1230.0,476.0 1231.5,475.7 1233.0,475.4 1234.5,475.4 1236.0,475.6 1237.5,475.8 1239.0,476.1 1240.5,476.2 1242.0,476.1 1243.5,475.8 1245.0,475.5 1246.5,475.2 1248.0,475.2 1249.5,475.4 1251.0,475.7 1252.5,475.9 1254.0,476.0 1255.5,475.9 1257.0,475.7 1258.5,475.4 1260.0,475.1 1261.5,475.1 1263.0,475.2 1264.5,475.5 1266.0,475.8 1267.5,475.9 1269.0,475.8 1270.5,475.6 1272.0,475.2 1273.5,475.0 1275.0,474.9 1276.5,475.0 1278.0,475.3 1279.5,475.5 1281.0,475.6 1282.5,475.6 1284.0,475.3 1285.5,474.9 1287.0,474.7 1288.5,474.6 1290.0,474.7 1291.5,474.9 1293.0,475.2 1294.5,475.3 1296.0,475.2 1297.5,475.0 1299.0,474.6 1300.5,474.3 1302.0,474.2 1303.5,474.3 1305.0,474.6 1306.5,474.8 1308.0,475.0 1309.5,474.9 1311.0,474.6 1312.5,474.3 1314.0,474.0 1315.5,473.9 1317.0,474.0 1318.5,474.2 1320.0,474.5 1321.5,474.6 1323.0,474.6 1324.5,474.4 1326.0,474.0 1327.5,473.7 1329.0,473.6 1330.5,473.7 1332.0,473.9 1333.5,474.2 1335.0,474.3 1336.5,474.3 1338.0,474.0 1339.5,473.7 1341.0,473.4 1342.5,473.2 1344.0,473.3 1345.5,473.5 1347.0,473.7 1348.5,473.9 1350.0,473.8 1351.5,473.6 1353.0,473.2 1354.5,472.9 1356.0,472.7 1357.5,472.8 1359.0,473.0 1360.5,473.2 1362.0,473.4 1363.5,473.3 1365.0,473.1 1366.5,472.8 1368.0,472.5 1369.5,472.3 1371.0,472.3 1372.5,472.5 1374.0,472.8 1375.5,473.0 1377.0,473.0 1378.5,472.8 1380.0,472.4 1381.5,472.1 1383.0,471.9 1384.5,472.0 1386.0,472.2 1387.5,472.4 1389.0,472.6 1390.5,472.6 1392.0,472.4 1393.5,472.1 1395.0,471.8 1396.5,471.6 1398.0,471.6 1399.5,471.8 1401.0,472.0 1402.5,472.2 1404.0,472.2 1405.5,472.0 1407.0,471.6 1408.5,471.3 1410.0,471.1 1411.5,471.0 1413.0,471.2 1414.5,471.4 1416.0,471.6 1417.5,471.6 1419.0,471.4 1420.5,471.1 1422.0,470.7 1423.5,470.5 1425.0,470.5 1426.5,470.6 1428.0,470.9 1429.5,471.1 1431.0,471.1 1432.5,470.9 1434.0,470.6 1435.5,470.3 1437.0,470.1 1438.5,470.1 1440.0,470.2 1441.5,470.5 1443.0,470.7 1444.5,470.8 1446.0,470.7 1447.5,470.4 1449.0,470.0 1450.5,469.8 1452.0,469.8 1453.5,469.9 1455.0,470.2 1456.5,470.4 1458.0,470.5 1459.5,470.4 1461.0,470.1 1462.5,469.9 1464.0,469.7 1465.5,469.8 1467.0,470.1 1468.5,470.4 1470.0,470.8 1471.5,470.9 1473.0,470.9 1474.5,470.7 1476.0,470.5 1477.5,470.3 1479.0,470.4 1480.5,470.6 1482.0,471.0 1483.5,471.3 1485.0,471.5 1486.5,471.5 1488.0,471.3 1489.5,471.0 1491.0,470.8 1492.5,470.8 1494.0,470.9 1495.5,471.2 1497.0,471.5 1498.5,471.7 1500.0,471.7 1501.5,471.4 1503.0,471.2 1504.5,471.0 1506.0,470.9 1507.5,471.1 1509.0,471.4 1510.5,471.7 1512.0,471.9 1513.5,471.9 1515.0,471.6 1516.5,471.4 1518.0,471.1 1519.5,471.0 1521.0,471.1 1522.5,471.4 1524.0,471.7 1525.5,471.8 1527.0,471.8 1528.5,471.5 1530.0,471.2 1531.5,470.9 1533.0,470.8 1534.5,471.0 1536.0,471.2 1537.5,471.5 1539.0,471.6 1540.5,471.6 1542.0,471.4 1543.5,471.0 1545.0,470.8 1546.5,470.7 1548.0,470.8 1549.5,471.0 1551.0,471.3 1552.5,471.4 1554.0,471.4 1555.5,471.1 1557.0,470.8 1558.5,470.5 1560.0,470.4 1561.5,470.5 1563.0,470.7 1564.5,471.0 1566.0,471.1 1567.5,471.1 1569.0,470.9 1570.5,470.5 1572.0,470.2 1573.5,470.1 1575.0,470.1 1576.5,470.4 1578.0,470.6 1579.5,470.8 1581.0,470.8 1582.5,470.5 1584.0,470.2 1585.5,469.9 1587.0,469.7 1588.5,469.8 1590.0,470.0 1591.5,470.2 1593.0,470.4 1594.5,470.4 1596.0,470.2 1597.5,469.8 1599.0,469.5 1600.5,469.3 1602.0,469.4 1603.5,469.6 1605.0,469.8 1606.5,470.0 1608.0,470.0 1609.5,469.8 1611.0,469.5 1612.5,469.2 1614.0,469.0 1615.5,469.0 1617.0,469.2 1618.5,469.5 1620.0,469.7 1621.5,469.7 1623.0,469.5 1624.5,469.2 1626.0,468.9 1627.5,468.7 1629.0,468.7 1630.5,468.9 1632.0,469.2 1633.5,469.4 1635.0,469.5 1636.5,469.3 1638.0,469.0 1639.5,468.7 1641.0,468.5 1642.5,468.5 1644.0,468.7 1645.5,469.0 1647.0,469.2 1648.5,469.2 1650.0,469.1 1651.5,468.8 1653.0,468.5 1654.5,468.3 1656.0,468.3 1657.5,468.4 1659.0,468.7 1660.5,469.0 1662.0,469.0 1663.5,468.9 1665.0,468.6 1666.5,468.3 1668.0,468.0 1669.5,468.0 1671.0,468.2 1672.5,468.5 1674.0,468.7 1675.5,468.8 1677.0,468.7 1678.5,468.5 1680.0,468.2 1681.5,468.0 1683.0,468.0 1684.5,468.2 1686.0,468.5 1687.5,468.7 1689.0,468.8 1690.5,468.8 1692.0,468.5 1693.5,468.2 1695.0,468.0 1696.5,468.0 1698.0,468.2 1699.5,468.4 1701.0,468.7 1702.5,468.8 1704.0,468.8 1705.5,468.5 1707.0,468.2 1708.5,468.0 1710.0,468.0 1711.5,468.1 1713.0,468.4 1714.5,468.7 1716.0,468.8 1717.5,468.8 1719.0,468.5 1720.5,468.2 1722.0,468.0 1723.5,468.0 1725.0,468.1 1726.5,468.4 1728.0,468.7 1729.5,468.8 1731.0,468.8 1732.5,468.5 1734.0,468.2 1735.5,468.0 1737.0,467.8 1738.5,467.9 1740.0,468.1 1741.5,468.4 1743.0,468.6 1744.5,468.5 1746.0,468.3 1747.5,468.0 1749.0,467.8 1750.5,467.7 1752.0,467.9 1753.5,468.2 1755.0,468.5 1756.5,468.6 1758.0,468.6 1759.5,468.4 1761.0,468.1 1762.5,467.9 1764.0,467.8 1765.5,467.9 1767.0,468.2 1768.5,468.5 1770.0,468.7 1771.5,468.7 1773.0,468.5 1774.5,468.2 1776.0,468.0 1777.5,467.9 1779.0,468.0 1780.5,468.3 1782.0,468.6 1783.5,468.8 1785.0,468.8 1786.5,468.6 1788.0,468.3 1789.5,468.0 1791.0,467.9 1792.5,468.0 1794.0,468.2 1795.5,468.5 1797.0,468.6 1798.5,468.6 1800.0,468.4 1801.5,468.0 1803.0,467.7 1804.5,467.6 1806.0,467.6 1807.5,467.9 1809.0,468.1 1810.5,468.3 1812.0,468.3 1813.5,468.1 1815.0,467.7 1816.5,467.4 1818.0,467.3 1819.5,467.4 1821.0,467.7 1822.5,468.0 1824.0,468.3 1825.5,468.4 1827.0,468.3 1828.5,468.1 1830.0,467.8 1831.5,467.7 1833.0,467.9 1834.5,468.2 1836.0,468.5 1837.2,468.4" stroke="#2e2eff" stroke-width="2.4"/>
</g>
<g fill="#000" shape-rendering="crispEdges">
<rect x="220" y="22" width="5" height="1534"/>
<rect x="223" y="1553" width="1681" height="6"/>
<rect x="225" y="1499" width="22" height="2"/>
<rect x="225" y="1444" width="22" height="2"/>
<rect x="225" y="1388" width="22" height="2"/>
<rect x="225" y="1333" width="22" height="2"/>
<rect x="225" y="1275" width="37" height="5"/>
<rect x="225" y="1221" width="22" height="2"/>
<rect x="225" y="1166" width="22" height="2"/>
<rect x="225" y="1110" width="22" height="2"/>
<rect x="225" y="1055" width="22" height="2"/>
<rect x="225" y="997" width="37" height="5"/>
<rect x="225" y="943" width="22" height="2"/>
<rect x="225" y="888" width="22" height="2"/>
<rect x="225" y="832" width="22" height="2"/>
<rect x="225" y="777" width="22" height="2"/>
<rect x="225" y="719" width="37" height="6"/>
<rect x="225" y="665" width="22" height="2"/>
<rect x="225" y="610" width="22" height="2"/>
<rect x="225" y="554" width="22" height="2"/>
<rect x="225" y="499" width="22" height="2"/>
<rect x="225" y="441" width="37" height="5"/>
<rect x="225" y="387" width="22" height="2"/>
<rect x="225" y="332" width="22" height="2"/>
<rect x="225" y="276" width="22" height="2"/>
<rect x="225" y="221" width="22" height="2"/>
<rect x="225" y="163" width="37" height="6"/>
<rect x="225" y="109" width="22" height="2"/>
<rect x="225" y="54" width="22" height="2"/>
<rect x="276" y="1532" width="2" height="21"/>
<rect x="330" y="1532" width="2" height="21"/>
<rect x="385" y="1532" width="2" height="21"/>
<rect x="439" y="1532" width="2" height="21"/>
<rect x="492" y="1516" width="5" height="37"/>
<rect x="548" y="1532" width="2" height="21"/>
<rect x="602" y="1532" width="2" height="21"/>
<rect x="657" y="1532" width="2" height="21"/>
<rect x="711" y="1532" width="2" height="21"/>
<rect x="764" y="1516" width="5" height="37"/>
<rect x="820" y="1532" width="2" height="21"/>
<rect x="874" y="1532" width="2" height="21"/>
<rect x="928" y="1532" width="2" height="21"/>
<rect x="983" y="1532" width="2" height="21"/>
<rect x="1036" y="1516" width="5" height="37"/>
<rect x="1091" y="1532" width="2" height="21"/>
<rect x="1146" y="1532" width="2" height="21"/>
<rect x="1200" y="1532" width="2" height="21"/>
<rect x="1255" y="1532" width="2" height="21"/>
<rect x="1307" y="1516" width="5" height="37"/>
<rect x="1363" y="1532" width="2" height="21"/>
<rect x="1418" y="1532" width="2" height="21"/>
<rect x="1472" y="1532" width="2" height="21"/>
<rect x="1526" y="1532" width="2" height="21"/>
<rect x="1579" y="1516" width="5" height="37"/>
<rect x="1635" y="1532" width="2" height="21"/>
<rect x="1689" y="1532" width="2" height="21"/>
<rect x="1744" y="1532" width="2" height="21"/>
<rect x="1798" y="1532" width="2" height="21"/>
<rect x="1851" y="1516" width="5" height="37"/>
</g>
<g class="tl">
<text transform="translate(17.01,186.4) scale(1,1.035)">0.0025</text>
<text transform="translate(50.37,464.4) scale(1,1.035)">0.002</text>
<text transform="translate(17.01,742.3) scale(1,1.035)">0.00<tspan dx="2">1</tspan><tspan dx="-2">5</tspan></text>
<text transform="translate(50.37,1020.2) scale(1,1.035)">0.00<tspan dx="2">1</tspan></text>
<text transform="translate(17.01,1298.2) scale(1,1.035)">0.0005</text>
<text transform="translate(167.14,1576.2) scale(1,1.035)">0</text>
</g>
<g class="tl">
<text transform="translate(206.02,1616.7) scale(1,1.035)">0</text>
<text transform="translate(461.14,1616.7) scale(1,1.035)"><tspan dx="2">1</tspan><tspan dx="-2">0</tspan></text>
<text transform="translate(732.94,1616.7) scale(1,1.035)">20</text>
<text transform="translate(1004.74,1616.7) scale(1,1.035)">30</text>
<text transform="translate(1276.54,1616.7) scale(1,1.035)">40</text>
<text transform="translate(1548.34,1616.7) scale(1,1.035)">50</text>
<text transform="translate(1820.14,1616.7) scale(1,1.035)">60</text>
</g>
<g fill="#fff">
<rect x="139.37" y="737.35" width="11.45" height="5.60"/>
<rect x="156.22" y="737.35" width="10.60" height="5.60"/>
<rect x="172.74" y="1015.30" width="11.45" height="5.60"/>
<rect x="189.59" y="1015.30" width="10.60" height="5.60"/>
<rect x="466.74" y="1611.75" width="11.45" height="5.60"/>
<rect x="483.59" y="1611.75" width="10.60" height="5.60"/>
</g>
<text class="ti" x="997.2" y="1685"><tspan font-size="74.8px">R</tspan><tspan dx="-2.5">ev</tspan></text>
<text class="ti" transform="translate(89,857.5) rotate(-90) scale(1,1.048)">C<tspan font-size="43.2px" dy="20">T</tspan></text>
<rect x="1197" y="1047" width="668" height="334" fill="none" stroke="#000" stroke-width="2" shape-rendering="crispEdges"/>
<g shape-rendering="crispEdges">
<rect x="1253" y="1156" width="269" height="2" fill="#d20000"/>
<rect x="1253" y="1227" width="269" height="3" fill="#00d200"/>
<rect x="1253" y="1299" width="269" height="2" fill="#2e2eff"/>
</g>
<text class="lg" transform="translate(0,1174.6) scale(1,1.048)"><tspan class="gr" x="1565.9">Δ</tspan><tspan class="gr" x="1604.8">Ψ</tspan><tspan x="1650.7"> = 20°</tspan></text>
<text class="lg" transform="translate(0,1246.3) scale(1,1.048)"><tspan class="gr" x="1565.9">Δ</tspan><tspan class="gr" x="1604.8">Ψ</tspan><tspan x="1650.7"> = 10°</tspan></text>
<text class="lg" transform="translate(0,1318.0) scale(1,1.048)"><tspan class="gr" x="1565.9">Δ</tspan><tspan class="gr" x="1604.8">Ψ</tspan><tspan x="1650.7"> = 5°</tspan></text>
</svg>
</body>
</html>
